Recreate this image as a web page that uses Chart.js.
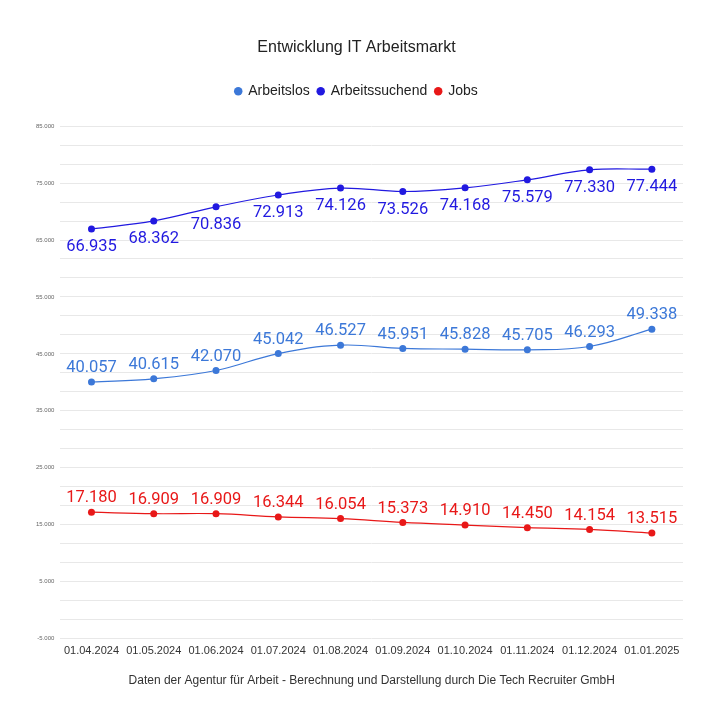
<!DOCTYPE html>
<html lang="de">
<head>
    <meta charset="UTF-8">
    <title>Entwicklung IT Arbeitsmarkt</title>
    <script src="https://cdn.jsdelivr.net/npm/chart.js@4.4.0/dist/chart.umd.min.js"></script>
    <style>
        body { margin: 0; background: #fff; }
    </style>
</head>
<body>
<canvas id="myChart" width="719" height="724"></canvas>
<script>
    const monate = ['01.04.2024', '01.05.2024', '01.06.2024', '01.07.2024', '01.08.2024',
                    '01.09.2024', '01.10.2024', '01.11.2024', '01.12.2024', '01.01.2025'];
    const arbeitslos = [40057, 40615, 42070, 45042, 46527, 45951, 45828, 45705, 46293, 49338];
    const arbeitssuchend = [66935, 68362, 70836, 72913, 74126, 73526, 74168, 75579, 77330, 77444];
    const jobs = [17180, 16909, 16909, 16344, 16054, 15373, 14910, 14450, 14154, 13515];
    const yTicks = [-5000, 5000, 15000, 25000, 35000, 45000, 55000, 65000, 75000, 85000];

    function deutsch(v) {
        return v.toString().replace(/\B(?=(\d{3})+(?!\d))/g, '.');
    }

    // Werte an den Punkten anzeigen
    const werteLabels = {
        id: 'werteLabels',
        afterDatasetsDraw(chart) {
            const ctx = chart.ctx;
            ctx.save();
            ctx.font = '16.5px Roboto';
            ctx.textAlign = 'center';
            ctx.textBaseline = 'middle';
            chart.data.datasets.forEach((ds, i) => {
                const meta = chart.getDatasetMeta(i);
                ctx.fillStyle = ds.borderColor;
                meta.data.forEach((p, j) => {
                    ctx.fillText(deutsch(ds.data[j]), p.x, p.y + ds.labelOffset);
                });
            });
            ctx.restore();
        }
    };

    // mehr Abstand unter der Legende
    const legendeAbstand = {
        id: 'legendeAbstand',
        beforeInit(chart) {
            const fitAlt = chart.legend.fit;
            chart.legend.fit = function () {
                fitAlt.bind(chart.legend)();
                this.height += 18;
            };
        }
    };

    const ctx = document.getElementById('myChart').getContext('2d');
    const myChart = new Chart(ctx, {
        type: 'line',
        data: {
            labels: monate,
            datasets: [
                {
                    label: 'Arbeitslos',
                    data: arbeitslos,
                    borderColor: '#3c78d8',
                    backgroundColor: '#3c78d8',
                    labelOffset: -14
                },
                {
                    label: 'Arbeitssuchend',
                    data: arbeitssuchend,
                    borderColor: '#2119e0',
                    backgroundColor: '#2119e0',
                    labelOffset: 18
                },
                {
                    label: 'Jobs',
                    data: jobs,
                    borderColor: '#e81818',
                    backgroundColor: '#e81818',
                    labelOffset: -14
                }
            ]
        },
        options: {
            responsive: false,
            animation: false,
            elements: {
                line: { borderWidth: 1.2, tension: 0.4 },
                point: { radius: 3.5, borderWidth: 0 }
            },
            layout: {
                padding: { left: 30, right: 36, top: 0, bottom: 32 }
            },
            plugins: {
                title: {
                    display: true,
                    text: 'Entwicklung IT Arbeitsmarkt',
                    color: '#222',
                    font: { family: 'Liberation Sans', size: 16, weight: 'normal' },
                    padding: { top: 38, bottom: 19 }
                },
                legend: {
                    labels: {
                        usePointStyle: true,
                        pointStyle: 'circle',
                        boxWidth: 6,
                        boxHeight: 6,
                        padding: 8,
                        color: '#222',
                        font: { family: 'Liberation Sans', size: 14 }
                    }
                },
                tooltip: { enabled: false }
            },
            scales: {
                x: {
                    offset: true,
                    grid: { display: false, drawTicks: false },
                    border: { display: false },
                    ticks: {
                        color: '#333',
                        font: { family: 'Liberation Sans', size: 11 },
                        maxRotation: 0,
                        padding: 6
                    },
                    title: {
                        display: true,
                        text: 'Daten der Agentur für Arbeit - Berechnung und Darstellung durch Die Tech Recruiter GmbH',
                        color: '#333',
                        font: { family: 'Liberation Sans', size: 12 },
                        padding: { top: 10 }
                    }
                },
                y: {
                    min: -5000,
                    max: 85000,
                    border: { display: false },
                    grid: { color: '#e8e8e8', tickLength: 0 },
                    afterBuildTicks(scale) {
                        const t = [];
                        for (let k = 0; k <= 27; k++) {
                            t.push({ value: -5000 + k * 10000 / 3 });
                        }
                        scale.ticks = t;
                    },
                    ticks: {
                        color: '#666',
                        font: { family: 'Liberation Sans', size: 6 },
                        padding: 6,
                        callback(value) {
                            const r = Math.round(value);
                            return yTicks.includes(r) ? deutsch(r) : '';
                        }
                    }
                }
            }
        },
        plugins: [werteLabels, legendeAbstand]
    });
</script>
</body>
</html>
